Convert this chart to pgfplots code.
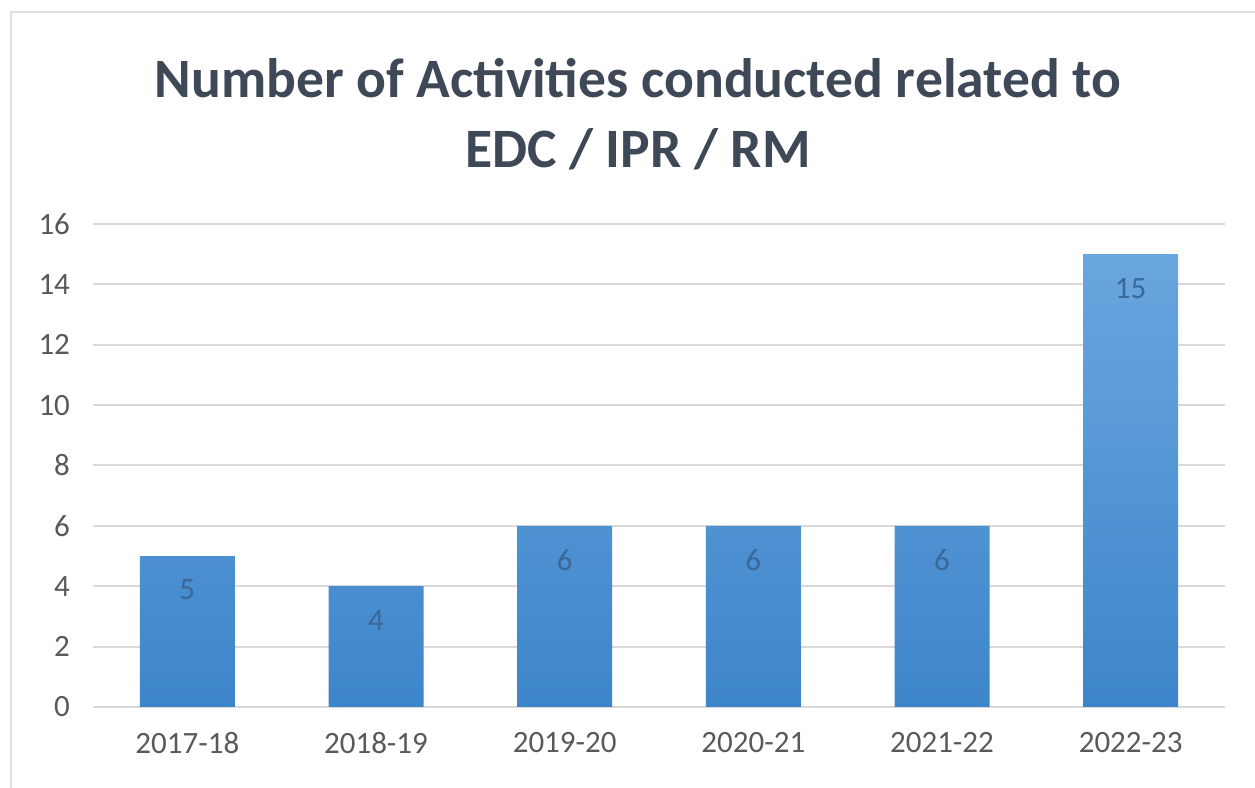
\documentclass[border=0pt]{standalone}
\usepackage{pgfplots}
\pgfplotsset{compat=1.18}
\usepackage{fontspec}
\setmainfont{Carlito}
\definecolor{titlec}{HTML}{3F4857}
\definecolor{gridc}{HTML}{D9D9D9}
\definecolor{tickc}{HTML}{595959}
\definecolor{barTop}{HTML}{6AA6DF}
\definecolor{barBot}{HTML}{3D85CA}
\definecolor{labc}{HTML}{3A6898}
\begin{document}
\begin{tikzpicture}
\useasboundingbox (0,0) rectangle (627.5pt,394pt);
\draw[gray!25, line width=1pt] (5.5pt,-5pt) |- (640pt,388pt);
\node[font=\bfseries\fontsize{27.8}{35}\selectfont, text=titlec, align=center] at (319pt,337pt) {Number of Activities conducted related to\\EDC / IPR / RM};
\begin{axis}[
  at={(46.5pt,40.5pt)}, anchor=south west,
  scale only axis, width=566pt, height=241.5pt,
  xmin=-0.5, xmax=5.5, ymin=0, ymax=16,
  ytick={0,2,...,16},
  xtick=data,
  xticklabels={2017-18,2018-19,2019-20,2020-21,2021-22,2022-23},
  axis x line*=bottom, axis y line*=left,
  x axis line style={gridc, line width=1pt, -},
  y axis line style={draw=none},
  ymajorgrids, grid style={gridc, line width=1pt},
  major tick length=0pt,
  tick style={draw=none},
  /pgf/number format/assume math mode=true,
  ticklabel style={font=\fontsize{15.5}{18}\selectfont, text=tickc},
  yticklabel style={xshift=-8pt},
  xticklabel style={yshift=-9pt},
  ybar, bar width=47.5pt,
  nodes near coords,
  every node near coord/.append style={anchor=center, yshift=-17pt, font=\fontsize{15.5}{18}\selectfont, text=labc},
  clip=false,
]
\addplot[draw=none, top color=barTop, bottom color=barBot] coordinates {(0,5) (1,4) (2,6) (3,6) (4,6) (5,15)};
\end{axis}
\end{tikzpicture}
\end{document}
